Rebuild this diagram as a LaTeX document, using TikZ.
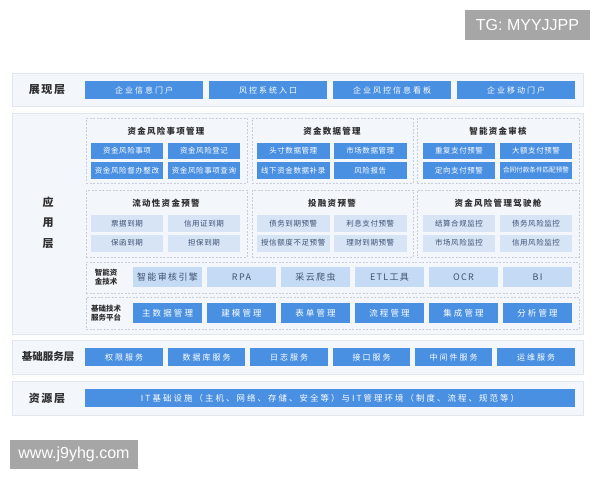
\documentclass[tikz,border=0pt]{standalone}
\usepackage{fontspec}
\setmainfont{Noto Sans CJK SC}
\newfontfamily\cjk{Noto Sans CJK SC}
\newfontfamily\cjksp[LetterSpace=8]{Noto Sans CJK SC}
\newfontfamily\cjkmid[LetterSpace=15]{Noto Sans CJK SC}
\newfontfamily\cjkwide[LetterSpace=25]{Noto Sans CJK SC}
\newfontfamily\latin{Liberation Sans}
\definecolor{bblue}{HTML}{4A90E2}
\definecolor{lblue}{HTML}{D6E4F6}
\definecolor{tblue}{HTML}{C5DAF4}
\definecolor{panelbg}{HTML}{F3F6FB}
\definecolor{panelline}{HTML}{E0E5EE}
\definecolor{dashc}{HTML}{C8CDD7}
\definecolor{darktext}{HTML}{2F2F2F}
\definecolor{ltext}{HTML}{3E5272}
\definecolor{wmgray}{HTML}{A6A6A6}
\newcommand\bx[7]{\node[#6, minimum width=#4pt, minimum height=#5pt, anchor=north west, inner sep=0pt, outer sep=0pt] (#1) at (#2,#3) {#7};}
\begin{document}
\begin{tikzpicture}[x=1pt,y=-1pt,
  panel/.style={fill=panelbg, draw=panelline, line width=0.8pt},
  sect/.style={draw=dashc, dash pattern=on 2pt off 1.5pt, line width=0.6pt},
  topbox/.style={fill=bblue, text=white, font=\cjkwide\fontsize{8}{10}\selectfont},
  smallb/.style={fill=bblue, text=white, font=\cjksp\fontsize{7.5}{9}\selectfont},
  smalll/.style={fill=lblue, text=ltext, font=\cjksp\fontsize{7.5}{9}\selectfont},
  techbox/.style={fill=tblue, text=ltext, font=\cjkmid\fontsize{9}{10}\selectfont},
  platbox/.style={fill=bblue, text=white, font=\cjkwide\fontsize{8.5}{10}\selectfont},
  title/.style={text=darktext, font=\cjkmid\bfseries\fontsize{8.5}{10}\selectfont},
  layer/.style={text=darktext, font=\cjkmid\bfseries\fontsize{11}{12}\selectfont},
  sublabel/.style={text=darktext, align=center, font=\cjk\bfseries\fontsize{7.5}{9}\selectfont},
  wm/.style={fill=wmgray, text=white, font=\latin\fontsize{16}{18}\selectfont}]
\useasboundingbox (0,0) rectangle (600,480);
% watermark boxes
\bx{tg}{465}{10}{125}{30}{wm}{TG: MYYJJPP}
\bx{www}{10}{440}{128}{29}{wm}{www.j9yhg.com}
% panels
\bx{P1}{12}{73}{571}{33}{panel}{}
\bx{P2}{12}{113}{571}{221}{panel}{}
\bx{P3}{12}{340}{571}{34}{panel}{}
\bx{P4}{12}{381}{571}{34}{panel}{}
% layer labels
\node[layer] (L1) at (47,90) {展现层};
\node[layer] (L2a) at (48,202) {应};
\node[layer] (L2b) at (48,223) {用};
\node[layer] (L2c) at (48,244) {层};
\node[text=darktext, font=\cjk\bfseries\fontsize{10.5}{12}\selectfont] (L3) at (48,357) {基础服务层};
\node[layer] (L4) at (47,398) {资源层};
% presentation layer
\bx{p1}{85}{81}{118}{18}{topbox}{企业信息门户}
\bx{p2}{209}{81}{118}{18}{topbox}{风控系统入口}
\bx{p3}{333}{81}{118}{18}{topbox}{企业风控信息看板}
\bx{p4}{457}{81}{118}{18}{topbox}{企业移动门户}
% application layer, row 1
\bx{s1}{86}{118}{161}{65}{sect}{}
\bx{s2}{252}{118}{161}{65}{sect}{}
\bx{s3}{417}{118}{162}{65}{sect}{}
\node[title] (t1) at (166,131) {资金风险事项管理};
\node[title] (t2) at (332,131) {资金数据管理};
\node[title] (t3) at (498,131) {智能资金审核};
\bx{a11}{91}{142.5}{72}{16.5}{smallb}{资金风险事项}
\bx{a12}{168}{142.5}{72}{16.5}{smallb}{资金风险登记}
\bx{a13}{91}{162}{72}{16.5}{smallb}{资金风险督办整改}
\bx{a14}{168}{162}{72}{16.5}{smallb}{资金风险事项查询}
\bx{a21}{257}{142.5}{72.5}{16.5}{smallb}{头寸数据管理}
\bx{a22}{334}{142.5}{72.5}{16.5}{smallb}{市场数据管理}
\bx{a23}{257}{162}{72.5}{16.5}{smallb}{线下资金数据补录}
\bx{a24}{334}{162}{72.5}{16.5}{smallb}{风险报告}
\bx{a31}{423}{142.5}{72}{16.5}{smallb}{重复支付预警}
\bx{a32}{500}{142.5}{72}{16.5}{smallb}{大额支付预警}
\bx{a33}{423}{162}{72}{16.5}{smallb}{定向支付预警}
\bx{a34}{500}{162}{72}{16.5}{smallb,font=\cjk\fontsize{6.6}{7.5}\selectfont}{合同付款条件匹配预警}
% application layer, row 2
\bx{r1}{86}{190}{161}{67}{sect}{}
\bx{r2}{252}{190}{161}{67}{sect}{}
\bx{r3}{417}{190}{162}{67}{sect}{}
\node[title] (u1) at (166,203) {流动性资金预警};
\node[title] (u2) at (332,203) {投融资预警};
\node[title] (u3) at (498,203) {资金风险管理驾驶舱};
\bx{b11}{91}{215}{72}{17}{smalll}{票据到期}
\bx{b12}{168}{215}{72}{17}{smalll}{信用证到期}
\bx{b13}{91}{234.5}{72}{17}{smalll}{保函到期}
\bx{b14}{168}{234.5}{72}{17}{smalll}{担保到期}
\bx{b21}{257}{215}{72.5}{17}{smalll}{债务到期预警}
\bx{b22}{334}{215}{72.5}{17}{smalll}{利息支付预警}
\bx{b23}{257}{234.5}{72.5}{17}{smalll}{授信额度不足预警}
\bx{b24}{334}{234.5}{72.5}{17}{smalll}{理财到期预警}
\bx{b31}{423}{215}{72}{17}{smalll}{结算合规监控}
\bx{b32}{500}{215}{72}{17}{smalll}{债务风险监控}
\bx{b33}{423}{234.5}{72}{17}{smalll}{市场风险监控}
\bx{b34}{500}{234.5}{72}{17}{smalll}{信用风险监控}
% technology row
\bx{tr}{86}{262}{493}{31}{sect}{}
\node[sublabel] (tl) at (106,277.5) {智能资\\金技术};
\bx{c1}{133}{267}{69}{20}{techbox}{智能审核引擎}
\bx{c2}{207}{267}{69}{20}{techbox}{RPA}
\bx{c3}{281}{267}{69}{20}{techbox}{采云爬虫}
\bx{c4}{355}{267}{69}{20}{techbox}{ETL工具}
\bx{c5}{429}{267}{69}{20}{techbox}{OCR}
\bx{c6}{503}{267}{69}{20}{techbox}{BI}
% platform row
\bx{pr}{86}{297}{493}{32}{sect}{}
\node[sublabel] (pl) at (106,313) {基础技术\\服务平台};
\bx{d1}{133}{303}{69}{20}{platbox}{主数据管理}
\bx{d2}{207}{303}{69}{20}{platbox}{建模管理}
\bx{d3}{281}{303}{69}{20}{platbox}{表单管理}
\bx{d4}{355}{303}{69}{20}{platbox}{流程管理}
\bx{d5}{429}{303}{69}{20}{platbox}{集成管理}
\bx{d6}{503}{303}{69}{20}{platbox}{分析管理}
% base service layer
\bx{e1}{85}{348}{78}{18}{topbox}{权限服务}
\bx{e2}{168}{348}{77}{18}{topbox}{数据库服务}
\bx{e3}{250}{348}{78}{18}{topbox}{日志服务}
\bx{e4}{333}{348}{77}{18}{topbox}{接口服务}
\bx{e5}{415}{348}{77}{18}{topbox}{中间件服务}
\bx{e6}{497}{348}{78}{18}{topbox}{运维服务}
% resource layer
\bx{f1}{85}{389}{490}{18}{topbox,font=\cjkwide\fontsize{8.4}{10}\selectfont}{IT基础设施（主机、网络、存储、安全等）与IT管理环境（制度、流程、规范等）}
\end{tikzpicture}
\end{document}
